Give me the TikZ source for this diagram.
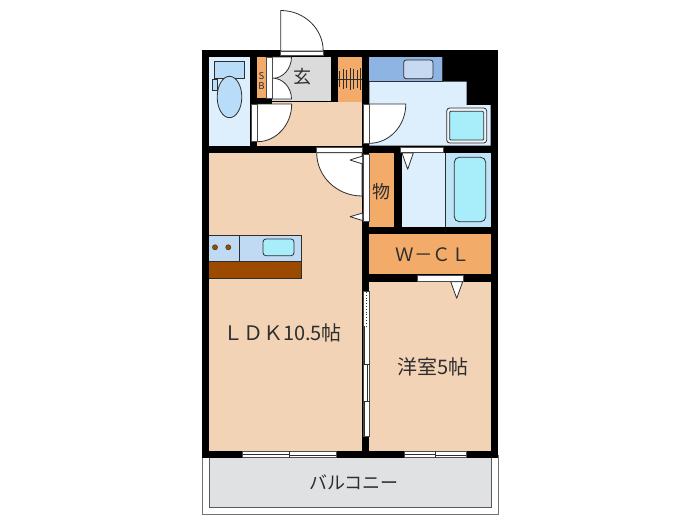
\documentclass[tikz,border=0pt]{standalone}
\usepackage{fontspec}
\newfontfamily\jpfont{Noto Sans CJK JP}
\usetikzlibrary{positioning}
\definecolor{beige}{HTML}{F3D3B6}
\definecolor{closet}{HTML}{F2AB69}
\definecolor{wet}{HTML}{DDEFFC}
\definecolor{tubwall}{HTML}{BFE3F7}
\definecolor{vanity}{HTML}{8DB4E2}
\definecolor{basin}{HTML}{A8EEFA}
\definecolor{bowl}{HTML}{B9DDF8}
\definecolor{hallgray}{HTML}{DBDBDB}
\definecolor{deck}{HTML}{E0E1E3}
\definecolor{line}{HTML}{2E2E2E}
\definecolor{counter}{HTML}{9C4A00}
\tikzset{
lbl/.style={
  inner sep=0pt,
  text=line,
  font=\jpfont\fontsize{20}{20}\selectfont
  },
leaf/.style={
  fill=white,
  draw=line,
  line width=0.8pt
  },
strip/.style={
  fill=white,
  draw=black!70,
  line width=0.5pt
  },
wedge/.style={
  fill=white,
  draw=line,
  line width=0.8pt,
  line join=round
  },
fixture/.style={
  draw=line,
  line width=0.8pt
  }
}
\begin{document}
\begin{tikzpicture}[x=1pt,y=-1pt]
\useasboundingbox (0,0) rectangle (700,525);
% balcony
\filldraw[fill=white,draw=black!55,line width=0.8pt] (202,455) rectangle (498,514);
\filldraw[fill=deck,draw=black!65,line width=0.8pt] (209,455) rectangle (491,507.3);
% walls
\fill[black] (202,50) rectangle (498,458);
% rooms
\fill[wet] (209,57) rectangle (250,146);
\fill[closet] (257.3,57) rectangle (266.7,98);
\fill[white] (266.7,57) rectangle (272,98);
\fill[hallgray] (272,57) rectangle (330.7,100.7);
\fill[closet] (337.7,57) rectangle (362,101.7);
\fill[beige] (257.3,101.7) rectangle (362,145.7);
\fill[black] (250,98) rectangle (272,104);
\fill[wet] (369.3,81.7) -- (466.7,81.7) -- (466.7,105) -- (490.7,105) -- (490.7,145.7) -- (369.3,145.7) -- cycle;
\fill[vanity] (369.3,57) rectangle (442.7,81.7);
\fill[beige] (209,152.7) rectangle (362,450.7);
\fill[closet] (369.3,153.3) rectangle (394.3,226.7);
\fill[wet] (401.7,153.3) rectangle (445.7,226.7);
\fill[tubwall] (445.7,153.3) rectangle (490.7,226.7);
\fill[closet] (369.3,234) rectangle (490.7,274.3);
\fill[beige] (369.3,282.3) rectangle (490.7,450.7);
% door leaves
\filldraw[leaf] (280.7,51) -- ++(-90:40.5) arc (-90:0:42.5 and 40.5) -- cycle;
\filldraw[leaf] (272,57) -- ++(0:19.5) arc (0:90:19.5 and 21.5) -- cycle;
\filldraw[leaf] (272,99) -- ++(0:19.5) arc (0:-90:19.5 and 21) -- cycle;
\filldraw[leaf] (257.3,104) -- ++(0:34.4) arc (0:90:34.4 and 37.7) -- cycle;
\filldraw[leaf] (369.3,104) -- ++(0:36.5) arc (0:90:36.5 and 39.3) -- cycle;
\filldraw[leaf] (362,152.7) -- ++(180:45.3) arc (180:90:45.3 and 43.3) -- cycle;
% door frames
\filldraw[strip] (266.7,57) rectangle (272,98);
\filldraw[strip] (251,104) rectangle (257.3,141.7);
\filldraw[strip] (363.3,104) rectangle (369.3,143.3);
\filldraw[strip] (280.7,51) rectangle (323.3,55.7);
\filldraw[strip] (400.7,147) rectangle (443.3,152.5);
\filldraw[strip] (316.7,147) rectangle (362,152.7);
\filldraw[strip] (363.3,154) rectangle (369.3,221.7);
\filldraw[strip] (417.3,275.7) rectangle (463.3,281);
% sliding door
\filldraw[strip] (363.3,291.7) rectangle (369.3,436.7);
\draw[line,line width=0.8pt,dotted] (366.3,292) -- (366.3,326);
\draw[line,line width=0.8pt] (364.8,326) -- (364.8,364) (367.8,364) -- (367.8,402) (364.8,402) -- (364.8,436);
\foreach \y in {364,401.7} {
  \draw[line,line width=0.5pt] (362.5,\y) -- (370,\y);
}
% windows
\filldraw[strip] (242.7,451.7) rectangle (336,457.7);
\filldraw[strip] (404.3,451.7) rectangle (466.3,457.7);
\draw[line,line width=0.5pt] (242.7,454) -- (289.3,454) (289.3,455.5) -- (336,455.5);
\draw[line,line width=0.5pt] (404.3,454) -- (435.7,454) (435.7,455.5) -- (466.3,455.5);
\foreach \x in {289.3,435.7} {
  \draw[line,line width=0.5pt] (\x,451) -- (\x,458);
}
% opening marks
\filldraw[wedge] (362.7,156) -- (350,160) -- (362.7,164) -- cycle;
\filldraw[wedge] (362.7,213) -- (350,216.7) -- (362.7,220.5) -- cycle;
\filldraw[wedge] (402,153) -- (407.7,169.3) -- (413.3,153) -- cycle;
\filldraw[wedge] (450.7,281.7) -- (456.7,298.3) -- (462.7,281.7) -- cycle;
% toilet
\filldraw[fixture,fill=bowl] (214.3,61.3) rectangle (244.7,78.3);
\filldraw[fixture,fill=bowl,line width=0.5pt] (212.3,79) rectangle (217.5,90.7);
\filldraw[fixture,fill=bowl] (229.5,97) ellipse (12.3 and 20.7);
% washroom fixtures
\draw[fixture] (369.3,81.7) -- (442.7,81.7) -- (442.7,57);
\filldraw[fixture,fill=vanity!50,rounded corners=2.5pt] (403.7,60) rectangle (433,78.7);
\filldraw[fixture,fill=white!85!vanity,rounded corners=3pt] (446.7,108) rectangle (486.7,143);
\filldraw[fixture,fill=basin,rounded corners=1pt] (449.7,111.3) rectangle (483.7,140);
% bath
\draw[fixture] (445.7,153.3) -- (445.7,226.7);
\filldraw[fixture,fill=basin,rounded corners=5pt] (454.3,157.3) rectangle (485.7,221.7);
% shoe shelf
\draw[line,line width=0.5pt] (338,79) -- (362,79);
\foreach \x/\h in {339.5/8,343/10,346.5/9,350/11,353.5/10,357/9,360.5/11} {
  \draw[line,line width=0.7pt] (\x,79-\h) -- (\x,79+\h);
}
% kitchen
\filldraw[fixture,fill=wet!65!vanity] (205,235) rectangle (301.7,261.7);
\filldraw[fixture,fill=counter] (205,261.7) rectangle (301.7,278.3);
\fill[black] (202,230) rectangle (209,285);
\draw[fixture] (239,235) -- (239,261.7);
\filldraw[fixture,fill=basin,rounded corners=3pt] (263,239) rectangle (294,255.7);
\foreach \x in {215,228.3} {
  \filldraw[fill=counter,draw=line,line width=0.4pt] (\x,247.3) circle (2.6);
}
% labels
\node[lbl] (ldk) at (282.5,333) {ＬＤＫ10.5帖};
\node[lbl] (western) at (433,367) {洋室5帖};
\node[lbl,font=\jpfont\fontsize{18.5}{18.5}\selectfont] (wcl) at (432.5,254.5) {Ｗ－ＣＬ};
\node[lbl,font=\jpfont\fontsize{18}{18}\selectfont] (storage) at (381.5,192) {物};
\node[lbl,font=\jpfont\fontsize{18}{18}\selectfont] (entry) at (302,77) {玄};
\node[lbl,font=\jpfont\fontsize{18}{18}\selectfont] (balcony) at (354,482) {バルコニー};
\node[lbl,font=\jpfont\fontsize{9.5}{9.5}\selectfont] (sbs) at (261.5,76) {S};
\node[lbl,font=\jpfont\fontsize{9.5}{9.5}\selectfont] (sbb) [below=2.5pt of sbs] {B};
\end{tikzpicture}
\end{document}
